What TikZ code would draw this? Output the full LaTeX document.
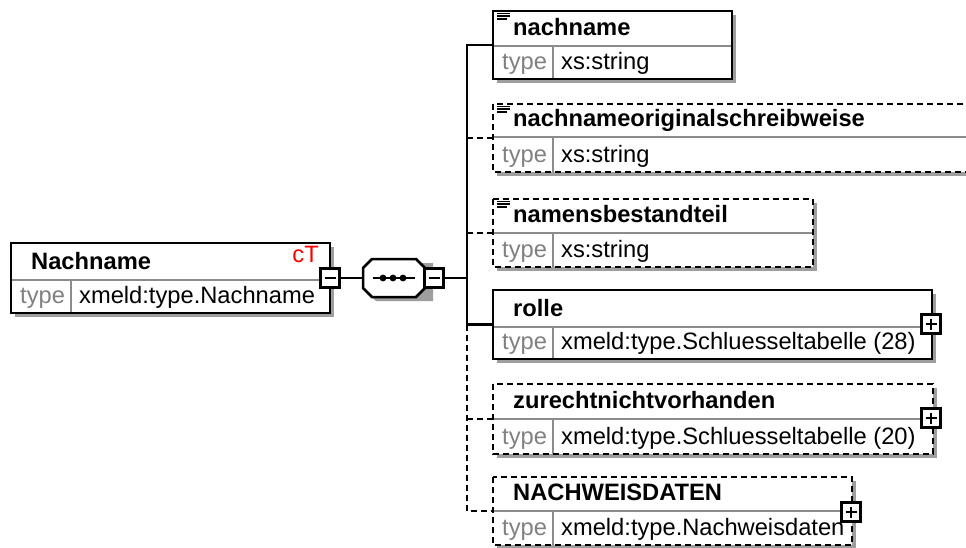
\documentclass[tikz,border=0pt]{standalone}
\usepackage{fontspec}
\setmainfont{Liberation Sans}
\newcommand\xbox[9]{%
  \fill[shadowc] (#2+4,#3+4) rectangle (#4+4,#6+4);
  \node[boxbg, minimum width={(#4-#2)*1pt}, minimum height={(#6-#3)*1pt}] (#1) at (#2,#3) {};
  \draw[sepline] (#2,#5) -- (#4,#5);
  \draw[sepline] (#2+60,#5) -- (#2+60,#6);
  \draw[border,#7] (#1.north west) rectangle (#1.south east);
  \node[ttl] (#1-title) at (#2+20,#5-11) {#8};
  \node[tlabel] (#1-tl) at (#2+9,#6-10) {type};
  \node[tval] (#1-tv) at (#2+68,#6-10) {#9};
}
\newcommand\xicon[3]{%
  \draw[line width=1.6pt] (#2+4,#3+2.5) -- ++(13,0) (#2+4,#3+5.2) -- ++(13,0) (#2+4,#3+7.9) -- ++(10,0);
  \coordinate (#1) at (#2+10,#3+5);
}
\newcommand\xminus[3]{%
  \node[pmbox] (#1) at (#2,#3) {};
  \draw[line width=2.2pt] (#2-5.5,#3) -- (#2+5.5,#3);
}
\newcommand\xplus[3]{%
  \node[pmbox] (#1) at (#2,#3) {};
  \draw[line width=2.2pt] (#2-5.5,#3) -- (#2+5.5,#3) (#2,#3-5.5) -- (#2,#3+5.5);
}
\begin{document}
\begin{tikzpicture}[x=1pt,y=-1pt,
  shadowc/.style={fill=black!38, draw=none},
  boxbg/.style={fill=white, draw=none, inner sep=0pt, outer sep=0pt, anchor=north west},
  border/.style={draw=black, line width=2.5pt},
  dsh/.style={dash pattern=on 6pt off 4pt},
  sepline/.style={draw=black!45, line width=2.2pt},
  ttl/.style={font=\fontsize{23.7}{27}\selectfont\bfseries, anchor=base west, inner sep=0pt},
  tlabel/.style={font=\fontsize{23.7}{27}\selectfont, text=black!50, anchor=base west, inner sep=0pt},
  tval/.style={font=\fontsize{23.7}{27}\selectfont, anchor=base west, inner sep=0pt},
  conn/.style={line width=2.5pt},
  pmbox/.style={draw=black, fill=white, line width=2.2pt, minimum width=19pt, minimum height=19pt, inner sep=0pt, outer sep=0pt}]
\clip (0,0) rectangle (966,547);
\fill[white] (0,0) rectangle (966,547);

% root element
\xbox{root}{11}{243}{330}{280}{313}{solid}{Nachname}{xmeld:type.Nachname}
\node[font=\fontsize{23.7}{27}\selectfont, text=red, anchor=base east, inner sep=0pt] (ct) at (319,262) {cT};
\xminus{rootm}{330}{278}

% sequence compositor
\fill[shadowc] (376,263) -- (433,263) -- (433,301) -- (376,301) -- (367,292) -- (367,272) -- cycle;
\node[inner sep=0pt, outer sep=0pt, minimum width=62pt, minimum height=38pt] (seq) at (394,278) {};
\draw[border, fill=white] (372,259) -- (416,259) -- (425,268) -- (425,288) -- (416,297) -- (372,297) -- (363,288) -- (363,268) -- cycle;
\draw[line width=2pt] (373,278) -- (415,278);
\foreach \dx in {383,393,403} \fill (\dx,278) circle (3.4pt);
\xminus{seqm}{434}{278}
\draw[conn] (rootm.east) -- (seq.west);
\coordinate (trunk) at (467,278);
\draw[conn] (seqm.east) -- (trunk);

% child elements
\xbox{e1}{493}{11}{732}{46}{79}{solid}{nachname}{xs:string}
\xicon{e1i}{493}{11}
\xbox{e2}{493}{104}{1000}{137}{172}{dsh}{nachnameoriginalschreibweise}{xs:string}
\xicon{e2i}{493}{104}
\xbox{e3}{493}{199}{813}{233}{267}{dsh}{namensbestandteil}{xs:string}
\xicon{e3i}{493}{199}
\xbox{e4}{493}{290}{932}{327}{359}{solid}{rolle}{xmeld:type.Schluesseltabelle (28)}
\xplus{e4p}{931}{324}
\xbox{e5}{493}{384}{933}{419}{454}{dsh}{zurechtnichtvorhanden}{xmeld:type.Schluesseltabelle (20)}
\xplus{e5p}{931}{418}
\xbox{e6}{493}{477}{852}{511}{545}{dsh}{NACHWEISDATEN}{xmeld:type.Nachweisdaten}
\xplus{e6p}{851}{512}

% connectors
\draw[conn] (e1.west) -- (trunk |- e1.west) -- (trunk |- e4.west) -- (e4.west);
\draw[conn, dsh] (trunk |- e4.west) -- (trunk |- e6.west) -- (e6.west);
\draw[conn, dsh] (trunk |- e2.west) -- (e2.west);
\draw[conn, dsh] (trunk |- e3.west) -- (e3.west);
\draw[conn, dsh] (trunk |- e5.west) -- (e5.west);
\end{tikzpicture}
\end{document}
